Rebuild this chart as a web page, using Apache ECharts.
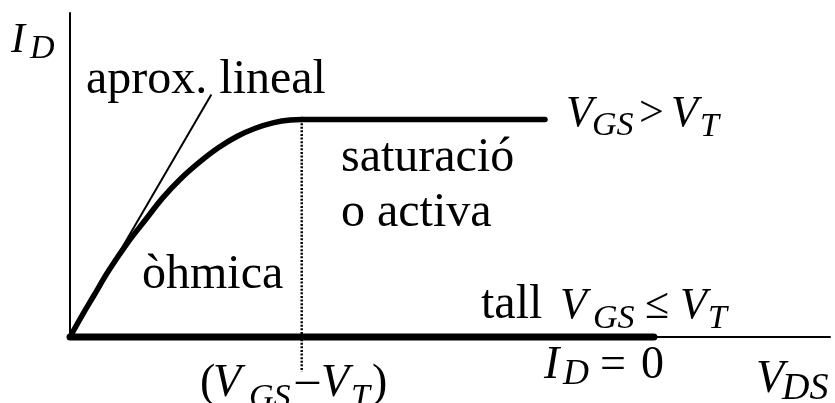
<!DOCTYPE html>
<html>
<head>
<meta charset="utf-8">
<script src="https://cdn.jsdelivr.net/npm/echarts@6/dist/echarts.min.js"></script>
<style>
  html, body { margin: 0; padding: 0; background: #fff; }
  #chart { width: 835px; height: 403px; }
</style>
</head>
<body>
<div id="chart"></div>
<script>
// Drain current of a MOSFET vs. drain-source voltage.
// V_DS is in units of (V_GS - V_T); I_D is in units of the saturation current.
const ohmicVds = [0, 0.05, 0.10, 0.17, 0.25, 0.33, 0.40, 0.48, 0.56, 0.64, 0.72, 0.80, 0.88, 0.95, 1.0];
const ohmicId  = [0, 0.095, 0.185, 0.31, 0.435, 0.545, 0.64, 0.73, 0.805, 0.87, 0.922, 0.96, 0.986, 0.998, 1.0];
const satVds = [1.0, 2.05];
const satId  = [1.0, 1.0];
const tangentVds = [0, 0.61];
const tangentId  = [0, 1.115];
const cutoffVds = [0, 2.52];
const cutoffId  = [0, 0];
const pinchVds = [1.0, 1.0];
const pinchId  = [1.0, -0.16];
const vdsMax = 3.28;
const idMax = 1.49;

const zip = (xs, ys) => xs.map((x, i) => [x, ys[i]]);

const SERIF = '"Liberation Serif", "Times New Roman", serif';

// text placed by its left edge and alphabetic baseline
function txt(str, x, base, size, italic) {
  return {
    type: 'text',
    x: x,
    y: base - 0.305 * size,
    style: {
      text: str,
      font: (italic ? 'italic ' : '') + size + 'px ' + SERIF,
      fill: '#000',
      align: 'left',
      verticalAlign: 'middle'
    },
    z: 100
  };
}

const chart = echarts.init(document.getElementById('chart'), null, { renderer: 'canvas' });

const blackLine = (w, extra) => Object.assign({ color: '#000', width: w }, extra || {});

chart.setOption({
  animation: false,
  backgroundColor: '#fff',
  grid: { left: 70, right: 5, top: 13, bottom: 66 },
  xAxis: {
    type: 'value', min: 0, max: vdsMax,
    axisLine: { show: true, onZero: false, lineStyle: { color: '#000', width: 2 } },
    axisTick: { show: false }, axisLabel: { show: false }, splitLine: { show: false }
  },
  yAxis: {
    type: 'value', min: 0, max: idMax,
    axisLine: { show: true, onZero: false, lineStyle: { color: '#000', width: 2 } },
    axisTick: { show: false }, axisLabel: { show: false }, splitLine: { show: false }
  },
  series: [
    {
      name: 'aprox. lineal', type: 'line', data: zip(tangentVds, tangentId),
      symbol: 'none', clip: false, lineStyle: blackLine(2)
    },
    {
      name: 'òhmica', type: 'line', data: zip(ohmicVds, ohmicId),
      symbol: 'none', smooth: 0.4, clip: false,
      lineStyle: blackLine(5.5, { cap: 'round', join: 'round' })
    },
    {
      name: 'saturació', type: 'line', data: zip(satVds, satId),
      symbol: 'none', clip: false, lineStyle: blackLine(5.5, { cap: 'round' })
    },
    {
      name: 'tall', type: 'line', data: zip(cutoffVds, cutoffId),
      symbol: 'none', clip: false, lineStyle: blackLine(7, { cap: 'round' })
    },
    {
      name: 'pinch-off', type: 'line', data: zip(pinchVds, pinchId),
      symbol: 'none', clip: false, lineStyle: blackLine(2.5, { type: [2, 1.6] })
    }
  ],
  graphic: [
    // axis titles
    txt('I', 11, 54, 42, true), txt('D', 30, 59, 34, true),
    txt('V', 756, 394, 46, true), txt('DS', 782, 401, 38, true),
    // region names
    txt('aprox. lineal', 86, 95, 48, false),
    txt('saturació', 341, 173, 48, false),
    txt('o activa', 341, 228, 48, false),
    txt('òhmica', 142, 290, 48, false),
    // V_GS > V_T
    txt('V', 566, 128, 44, true), txt('GS', 592, 136, 34, true),
    txt('>', 639, 128, 44, false),
    txt('V', 671, 128, 44, true), txt('T', 700, 137, 34, true),
    // tall V_GS <= V_T
    txt('tall', 481, 320, 48, false),
    txt('V', 560, 320, 44, true), txt('GS', 593, 329, 34, true),
    txt('≤', 645, 320, 44, false),
    txt('V', 680, 320, 44, true), txt('T', 708, 329, 34, true),
    // I_D = 0
    txt('I', 544, 380, 46, true), txt('D', 563, 386, 36, true),
    txt('=', 600, 380, 46, false), txt('0', 641, 380, 46, false),
    // (V_GS - V_T)
    txt('(', 200, 398, 46, false),
    txt('V', 213, 398, 46, true), txt('GS', 249, 408, 34, true),
    txt('–', 296, 396, 46, false),
    txt('V', 321, 398, 46, true), txt('T', 351, 408, 34, true),
    txt(')', 372, 398, 46, false)
  ]
});
</script>
</body>
</html>
